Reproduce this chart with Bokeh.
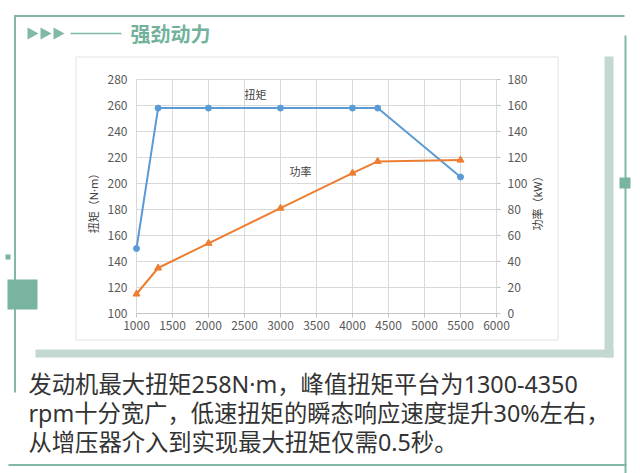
import math
from bokeh.plotting import figure
from bokeh.models import Range1d
from bokeh.core.properties import value
from bokeh.embed import file_html
from bokeh.resources import INLINE

# ---------------- data ----------------
rpm = [1000, 1300, 2000, 3000, 4000, 4350, 5500]
torque = [150, 258, 258, 258, 258, 258, 205]
power = [15, 35, 54, 81, 108, 117, 118]

x_ticks = [1000, 1500, 2000, 2500, 3000, 3500, 4000, 4500, 5000, 5500, 6000]
torque_ticks = [100, 120, 140, 160, 180, 200, 220, 240, 260, 280]
power_ticks = [0, 20, 40, 60, 80, 100, 120, 140, 160, 180]

torque_axis_label = "扭矩（N·m）"
power_axis_label = "功率（kW）"
torque_series_name = "扭矩"
power_series_name = "功率"
title_text = "强劲动力"
caption_lines = [
    "发动机最大扭矩258N·m，峰值扭矩平台为1300-4350",
    "rpm十分宽广，低速扭矩的瞬态响应速度提升30%左右，",
    "从增压器介入到实现最大扭矩仅需0.5秒。",
]

# ---------------- styling ----------------
FONT = "Noto Sans CJK SC"
MIXED_FONT = "Noto Sans, Noto Sans CJK SC"
GREEN = "#80b9a5"
GREEN_DARK = "#78b49f"
GREEN_TXT = "#72b29b"
SHADOW = "#c3d8cf"
GRID = "#d9d9d9"
AXIS = "#c4c4c4"
BLUE = "#5b9bd5"
ORANGE = "#ed7d31"

W, H = 640, 473
xmin, xmax = x_ticks[0], x_ticks[-1]
ymin, ymax = torque_ticks[0], torque_ticks[-1]
pmin, pmax = power_ticks[0], power_ticks[-1]

# plot-area placement on the canvas (pixels)
PL, PR, PT, PB = 136, 496, 79, 313
kx = (xmax - xmin) / (PR - PL)
ky = (ymax - ymin) / (PB - PT)
kp = (pmax - pmin) / (PB - PT)

p = figure(
    width=W, height=H, output_backend="svg", toolbar_location=None,
    x_axis_location=None, y_axis_location=None,
    x_range=Range1d(xmin - PL * kx, xmax + (W - PR) * kx),
    y_range=Range1d(ymin - (H - PB) * ky, ymax + PT * ky),
    min_border=0, background_fill_color="white", border_fill_color="white",
)
p.outline_line_color = None
p.grid.visible = False
p.extra_y_ranges = {
    "power": Range1d(pmin - (H - PB) * kp, pmax + PT * kp),
    "py": Range1d(H, 0),
}
p.extra_x_ranges = {"px": Range1d(0, W)}

PX = dict(x_range_name="px", y_range_name="py")

# ---------------- decorations (canvas-pixel space) ----------------
# shadow bars and white chart panel
p.quad(left=[35, 604], right=[613, 613], top=[349, 56], bottom=[357, 357],
       fill_color=SHADOW, line_color=None, **PX)
p.quad(left=[75.5], right=[557.5], top=[56.5], bottom=[339.5],
       fill_color="white", line_color="#e2e2e2", line_width=1, **PX)

# outer frame lines
p.quad(left=[13.5, 13.5, 624, 8], right=[624, 15.5, 626, 626],
       top=[14.5, 15, 35, 463.5], bottom=[16.5, 392, 480, 465.5],
       fill_color=GREEN, line_color=None, **PX)
p.quad(left=[619, 7, 5], right=[630, 37, 10], top=[177, 279, 254], bottom=[188, 309, 259],
       fill_color=GREEN_DARK, line_color=None, **PX)

# title ornament
tri_x = [[27 + 13 * i, 38 + 13 * i, 27 + 13 * i] for i in range(3)]
tri_y = [[27, 33, 39] for _ in range(3)]
p.patches(xs=tri_x, ys=tri_y, fill_color=GREEN, line_color=None, **PX)
p.quad(left=[70], right=[121], top=[32.3], bottom=[33.8], fill_color=GREEN, line_color=None, **PX)
p.text(x=[130], y=[33], text=[title_text], text_font=value(FONT), text_font_size="20px",
       text_font_style="bold", text_color=GREEN_TXT, text_baseline="middle",
       text_align="left", **PX)

# caption
p.text(x=[28] * len(caption_lines), y=[383 + 29 * i for i in range(len(caption_lines))],
       text=caption_lines, text_font=value(MIXED_FONT), text_font_size="23.3px",
       text_color="#333333", text_baseline="middle", text_align="left", **PX)

# ---------------- grid and axes ----------------
n_t = len(torque_ticks)
n_x = len(x_ticks)
p.segment(x0=[xmin] * n_t, x1=[xmax] * n_t, y0=torque_ticks, y1=torque_ticks,
          line_color=GRID, line_width=1)
p.segment(x0=x_ticks, x1=x_ticks, y0=[ymin] * n_x, y1=[ymax] * n_x,
          line_color=GRID, line_width=1)
p.segment(x0=[xmin], x1=[xmax], y0=[ymin], y1=[ymin], line_color=AXIS, line_width=1)
# outward tick marks
p.ray(x=x_ticks, y=[ymin] * n_x, length=4, length_units="screen", angle=-math.pi / 2,
      line_color=AXIS, line_width=1)
p.ray(x=[xmax] * len(power_ticks), y=power_ticks, length=4, length_units="screen",
      angle=0, line_color=AXIS, line_width=1, y_range_name="power")

# tick labels
p.text(x=x_ticks, y=[ymin] * n_x, text=[str(t) for t in x_ticks], y_offset=7,
       text_font=value(FONT), text_font_size="12px", text_color="#595959",
       text_align="center", text_baseline="top")
p.text(x=[xmin] * n_t, y=torque_ticks, text=[str(t) for t in torque_ticks], x_offset=-9,
       text_font=value(FONT), text_font_size="12px", text_color="#595959",
       text_align="right", text_baseline="middle")
p.text(x=[xmax] * len(power_ticks), y=power_ticks, text=[str(t) for t in power_ticks],
       x_offset=11, y_range_name="power",
       text_font=value(FONT), text_font_size="12px", text_color="#595959",
       text_align="left", text_baseline="middle")

# axis titles
p.text(x=[93, 537], y=[200, 200], text=[torque_axis_label, power_axis_label],
       angle=math.pi / 2, text_font=value(MIXED_FONT), text_font_size="11px",
       text_color="#404040", text_align="center", text_baseline="middle", **PX)

# ---------------- data series ----------------
p.line(rpm, torque, line_color=BLUE, line_width=2)
p.scatter(rpm, torque, marker="circle", size=6, fill_color=BLUE, line_color=BLUE)
p.line(rpm, power, y_range_name="power", line_color=ORANGE, line_width=2)
p.scatter(rpm, power, y_range_name="power", marker="triangle", size=7,
          fill_color=ORANGE, line_color=ORANGE)

p.text(x=[2653], y=[269], text=[torque_series_name], text_font=value(FONT),
       text_font_size="11px", text_color="#404040", text_align="center", text_baseline="middle")
p.text(x=[3278], y=[210], text=[power_series_name], text_font=value(FONT),
       text_font_size="11px", text_color="#404040", text_align="center", text_baseline="middle")

open("out.html", "w").write(file_html(p, INLINE))
